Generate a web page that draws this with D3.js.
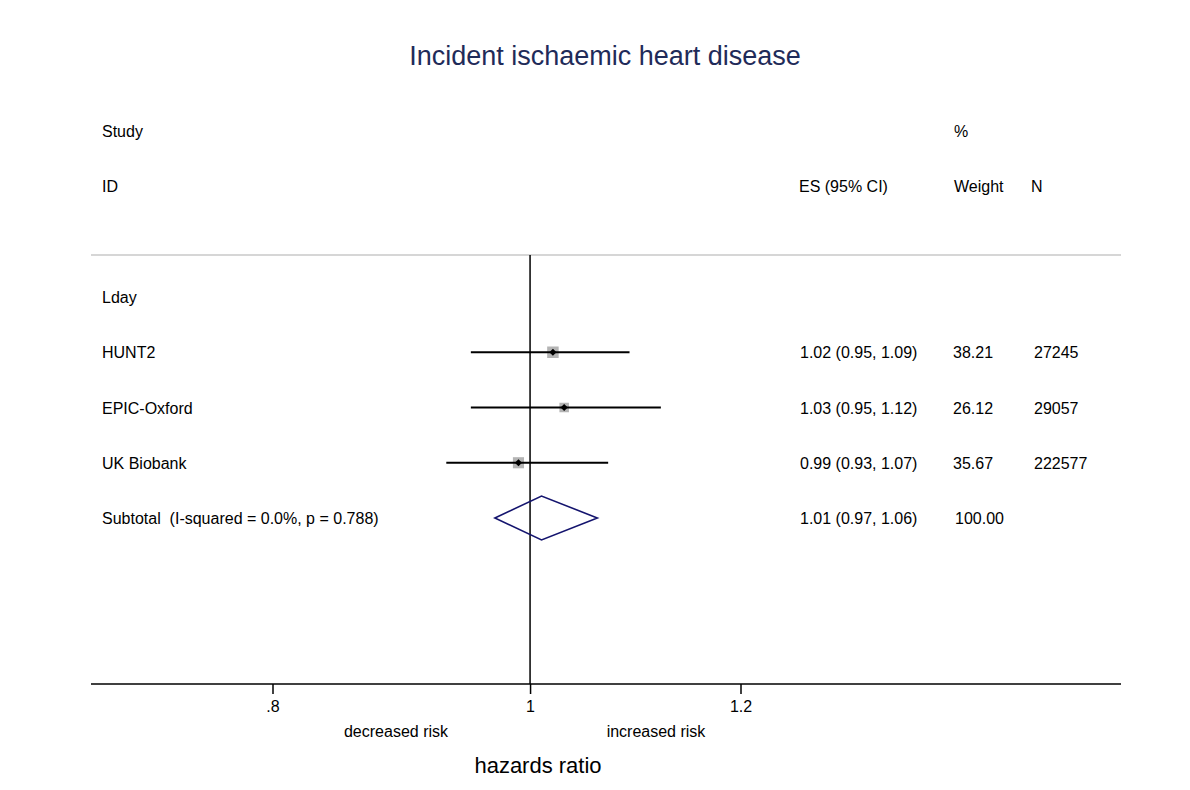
<!DOCTYPE html>
<html>
<head>
<meta charset="utf-8">
<script src="https://cdn.jsdelivr.net/npm/d3@7"></script>
<style>
  html, body { margin: 0; padding: 0; background: #fff; }
  svg { display: block; font-family: "Liberation Sans", Arial, Helvetica, sans-serif; }
  text { white-space: pre; }
</style>
</head>
<body>
<svg id="chart" width="1190" height="790"></svg>
<script>
// Study-level estimates (hazard ratio with 95% CI), weights and sizes
const studies   = ["HUNT2", "EPIC-Oxford", "UK Biobank"];
const hr        = [1.02, 1.03, 0.99];
const ciLow     = [0.95, 0.95, 0.93];
const ciHigh    = [1.09, 1.12, 1.07];
const weights   = [38.21, 26.12, 35.67];
const sizes     = [27245, 29057, 222577];

// Pooled estimate
const subtotalLabel = "Subtotal  (I-squared = 0.0%, p = 0.788)";
const pooled    = [1.01, 0.97, 1.06];   // estimate, low, high
const pooledWeight = "100.00";

const groupLabel = "Lday";
const tickValues = [0.8, 1, 1.2];
const tickLabels = [".8", "1", "1.2"];

const svg = d3.select("#chart");
const fmt = d3.format(".2f");

// Layout
const axisY = 684, topLine = 255, left = 91, right = 1121;
const colLabel = 102, colES = 800, colW = 954, colN = 1034;
const fs = 16, dy = 6;

const x = d3.scaleLog().domain([0.8, 1.2]).range([272.5, 740.5]);
const rowIds = ["group", ...studies, "subtotal"];
const y = d3.scalePoint().domain(rowIds).range([297, 518]);

// Title
svg.append("text")
  .attr("x", 605).attr("y", 65)
  .attr("text-anchor", "middle")
  .attr("font-size", 27)
  .attr("fill", "#1f2b59")
  .text("Incident ischaemic heart disease");

// Column headers
const hdr = svg.append("g").attr("font-size", fs).attr("fill", "#000");
hdr.append("text").attr("x", colLabel).attr("y", 137).text("Study");
hdr.append("text").attr("x", colLabel).attr("y", 192).text("ID");
hdr.append("text").attr("x", colW).attr("y", 137).text("%");
hdr.append("text").attr("x", colES - 1).attr("y", 192).text("ES (95% CI)");
hdr.append("text").attr("x", colW).attr("y", 192).text("Weight");
hdr.append("text").attr("x", colN - 3).attr("y", 192).text("N");

// Separator below the headers
svg.append("line")
  .attr("x1", left).attr("x2", right)
  .attr("y1", topLine).attr("y2", topLine)
  .attr("stroke", "#c8c8c8").attr("stroke-width", 1.5);

// Null line at HR = 1
svg.append("line")
  .attr("x1", x(1)).attr("x2", x(1))
  .attr("y1", topLine).attr("y2", axisY)
  .attr("stroke", "#000").attr("stroke-width", 1.5);

// Row labels
const labels = svg.append("g").attr("font-size", fs).attr("fill", "#000");
labels.append("text").attr("x", colLabel).attr("y", y("group") + dy).text(groupLabel);
studies.forEach(s => {
  labels.append("text").attr("x", colLabel).attr("y", y(s) + dy).text(s);
});
labels.append("text").attr("x", colLabel).attr("y", y("subtotal") + dy).text(subtotalLabel);

// Weight boxes (area proportional to weight)
const boxSide = d3.scaleSqrt().domain([0, 38.21]).range([0, 11.5]);
const marks = svg.append("g");
studies.forEach((s, i) => {
  const side = boxSide(weights[i]);
  marks.append("rect")
    .attr("x", x(hr[i]) - side / 2).attr("y", y(s) - side / 2)
    .attr("width", side).attr("height", side)
    .attr("fill", "#b4b4b4");
});

// Confidence intervals
studies.forEach((s, i) => {
  marks.append("line")
    .attr("x1", x(ciLow[i])).attr("x2", x(ciHigh[i]))
    .attr("y1", y(s)).attr("y2", y(s))
    .attr("stroke", "#000").attr("stroke-width", 2);
});

// Point estimates (small rotated squares)
const dia = d3.symbol().type(d3.symbolSquare).size(26);
studies.forEach((s, i) => {
  marks.append("path")
    .attr("d", dia())
    .attr("transform", `translate(${x(hr[i])},${y(s)}) rotate(45)`)
    .attr("fill", "#000");
});

// Pooled diamond
const yS = y("subtotal"), h = 22;
marks.append("path")
  .attr("d", d3.line()([
    [x(pooled[1]), yS], [x(pooled[0]), yS - h],
    [x(pooled[2]), yS], [x(pooled[0]), yS + h]
  ]) + "Z")
  .attr("fill", "none")
  .attr("stroke", "#14146e")
  .attr("stroke-width", 1.6);

// Right-hand columns
const cols = svg.append("g").attr("font-size", fs).attr("fill", "#000");
studies.forEach((s, i) => {
  cols.append("text").attr("x", colES).attr("y", y(s) + dy)
    .text(`${fmt(hr[i])} (${fmt(ciLow[i])}, ${fmt(ciHigh[i])})`);
  cols.append("text").attr("x", colW - 1).attr("y", y(s) + dy).text(fmt(weights[i]));
  cols.append("text").attr("x", colN).attr("y", y(s) + dy).text(sizes[i]);
});
cols.append("text").attr("x", colES).attr("y", yS + dy)
  .text(`${fmt(pooled[0])} (${fmt(pooled[1])}, ${fmt(pooled[2])})`);
cols.append("text").attr("x", colW + 1).attr("y", yS + dy).text(pooledWeight);

// X axis
svg.append("line")
  .attr("x1", left).attr("x2", right)
  .attr("y1", axisY).attr("y2", axisY)
  .attr("stroke", "#000").attr("stroke-width", 1.5);

const axis = d3.axisBottom(x)
  .tickValues(tickValues)
  .tickFormat((d, i) => tickLabels[i])
  .tickSize(10)
  .tickPadding(7);

const gAxis = svg.append("g")
  .attr("transform", `translate(0,${axisY})`)
  .call(axis);
gAxis.select(".domain").remove();
gAxis.selectAll(".tick line").attr("stroke", "#000").attr("stroke-width", 1.5);
gAxis.selectAll(".tick text")
  .attr("font-size", fs).attr("fill", "#000")
  .attr("font-family", "Liberation Sans, Arial, sans-serif");

// Direction labels and axis title
svg.append("text").attr("x", 396).attr("y", 737)
  .attr("text-anchor", "middle").attr("font-size", fs).text("decreased risk");
svg.append("text").attr("x", 656).attr("y", 737)
  .attr("text-anchor", "middle").attr("font-size", fs).text("increased risk");
svg.append("text").attr("x", 538).attr("y", 773)
  .attr("text-anchor", "middle").attr("font-size", 22).text("hazards ratio");
</script>
</body>
</html>
